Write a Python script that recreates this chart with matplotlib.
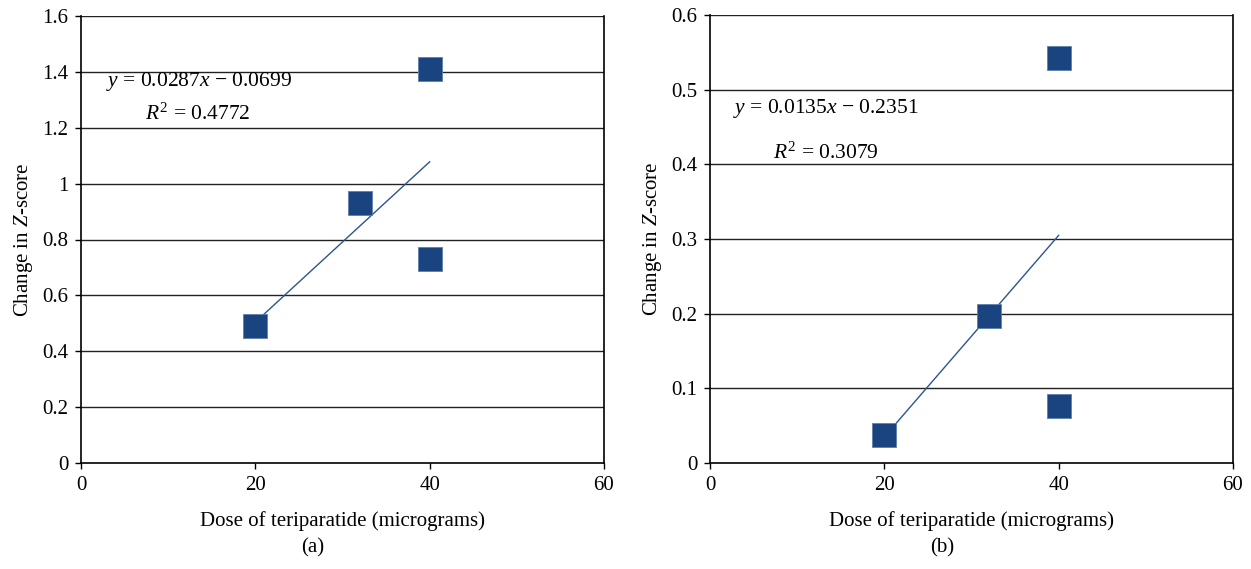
import matplotlib
matplotlib.use("Agg")
import matplotlib.pyplot as plt
import numpy as np

plt.rcParams['font.family'] = ['Liberation Serif', 'DejaVu Serif']
plt.rcParams['mathtext.fontset'] = 'custom'
plt.rcParams['mathtext.rm'] = 'Liberation Serif'
plt.rcParams['mathtext.it'] = 'Liberation Serif:italic'

# Panel (a)
dose_a = [20, 32, 40, 40]
zchange_a = [0.49, 0.93, 0.73, 1.41]
slope_a, intercept_a, r2_a = 0.0287, -0.0699, 0.4772
# Panel (b)
dose_b = [20, 32, 40, 40]
zchange_b = [0.038, 0.197, 0.076, 0.542]
slope_b, intercept_b, r2_b = 0.0135, -0.2351, 0.3079

xticks = [0, 20, 40, 60]
yticks_a = [0, 0.2, 0.4, 0.6, 0.8, 1.0, 1.2, 1.4, 1.6]
ytick_labels_a = ['0', '0.2', '0.4', '0.6', '0.8', '1', '1.2', '1.4', '1.6']
yticks_b = [0, 0.1, 0.2, 0.3, 0.4, 0.5, 0.6]
ytick_labels_b = ['0', '0.1', '0.2', '0.3', '0.4', '0.5', '0.6']

W, H = 1251, 569
fig = plt.figure(figsize=(W / 100, H / 100), dpi=100)

def rect(l, r, t, b):
    return [l / W, 1 - b / H, (r - l) / W, (b - t) / H]

ax_a = fig.add_axes(rect(81, 604, 16, 463))
ax_b = fig.add_axes(rect(710, 1233, 15, 463))

marker_color = '#1a4480'
FS = 15

def draw(ax, xs, ys, slope, intercept, r2, yticks, ylabels, ymax, eq_pos, r2_pos, tag, tag_x):
    ax.set_xlim(0, 60)
    ax.set_ylim(0, ymax)
    for yv in yticks[1:]:
        ax.axhline(yv, color='#222222', lw=1.0, zorder=1)
    fx = np.array([min(xs), max(xs)])
    ax.plot(fx, slope * fx + intercept, color='#2b5591', lw=1.0, zorder=2)
    ax.plot(xs, ys, linestyle='none', marker='s', markersize=17,
            markerfacecolor=marker_color, markeredgecolor='#5f7fae',
            markeredgewidth=0.6, zorder=3)
    ax.set_xticks(xticks)
    ax.set_xticklabels([str(v) for v in xticks])
    ax.set_yticks(yticks)
    ax.set_yticklabels(ylabels)
    ax.tick_params(axis='both', direction='out', length=4, width=1,
                   labelsize=FS, color='black', pad=5)
    for s in ax.spines.values():
        s.set_color('black')
        s.set_linewidth(1.2)
    ax.spines['top'].set_visible(False)
    ax.set_xlabel('Dose of teriparatide (micrograms)', fontsize=FS, labelpad=12)
    ax.set_ylabel('Change in $Z$-score', fontsize=FS, labelpad=5)
    sign = '\u2212' if intercept < 0 else '+'
    ax.text(eq_pos[0], eq_pos[1],
            '$y$ = %.4f$x$ %s %.4f' % (slope, sign, abs(intercept)),
            fontsize=15.5, ha='left', va='center', transform=ax.transData)
    ax.text(r2_pos[0], r2_pos[1], '$R^2$ = %.4f' % r2,
            fontsize=15.5, ha='left', va='center', transform=ax.transData)
    fig.text(tag_x / W, 1 - 548 / H, tag, fontsize=FS, ha='center', va='center')

draw(ax_a, dose_a, zchange_a, slope_a, intercept_a, r2_a, yticks_a, ytick_labels_a, 1.6,
     (2.9, 1.364), (7.3, 1.25), '(a)', 313)
draw(ax_b, dose_b, zchange_b, slope_b, intercept_b, r2_b, yticks_b, ytick_labels_b, 0.6,
     (2.6, 0.475), (7.2, 0.415), '(b)', 942)

fig.savefig('out.png', dpi=100)
